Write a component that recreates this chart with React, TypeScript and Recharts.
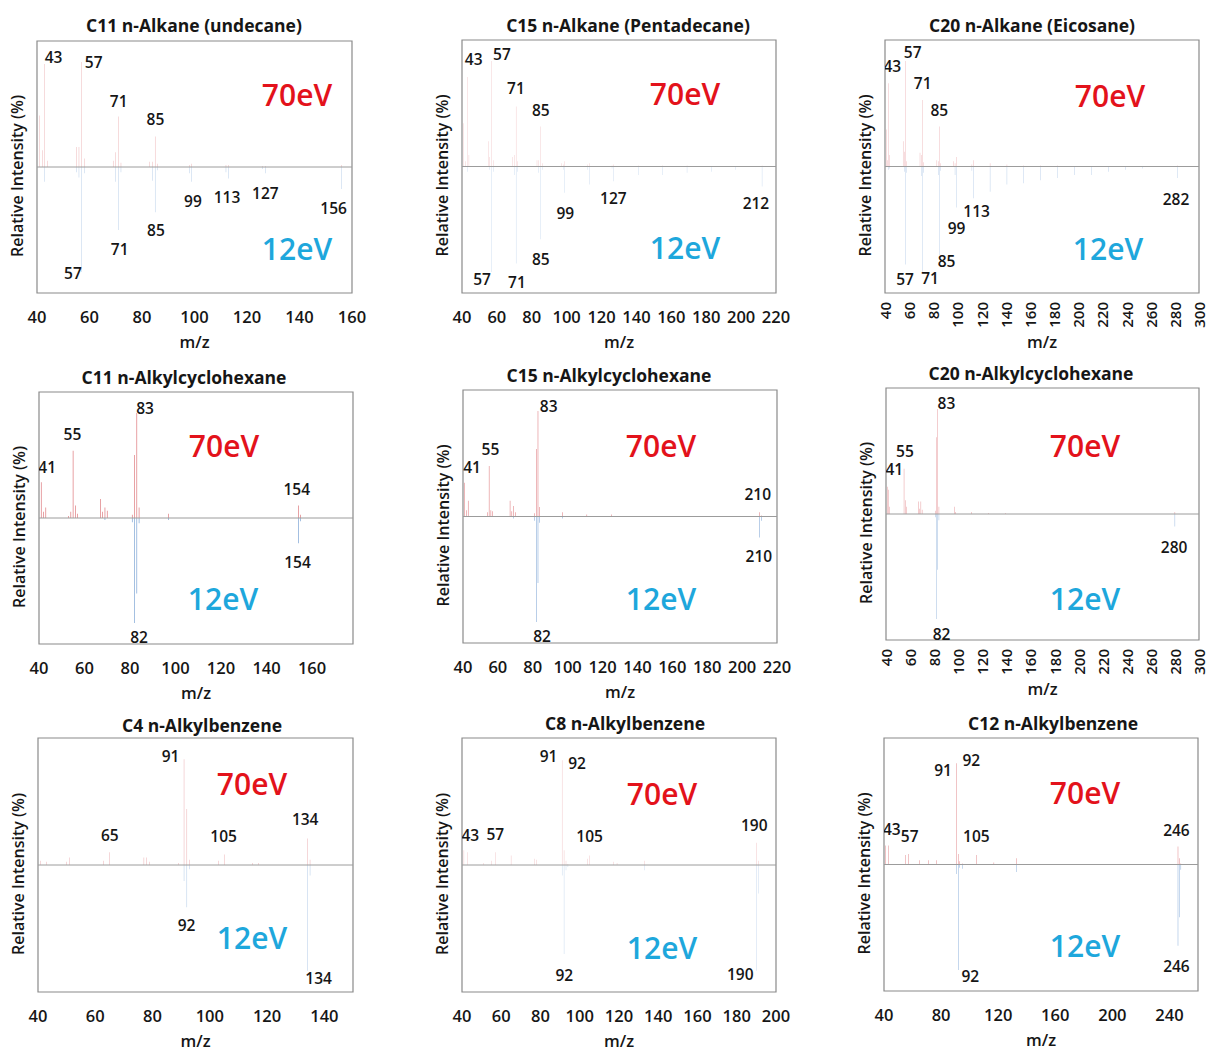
import React from "react";
import {
  ComposedChart,
  Bar,
  Scatter,
  XAxis,
  YAxis,
  ReferenceArea,
  ReferenceLine,
} from "recharts";

const FONT = '"Open Sans", "DejaVu Sans", sans-serif';
const RED = "#d9676c";
const BLUE = "#6a98cf";
const INK = "#161616";

// C11 n-Alkane (undecane)
const undecaneMz = [41, 42, 43, 44, 55, 56, 57, 58, 69, 70, 71, 72, 83, 84, 85, 86, 98, 99, 112, 113, 126, 127, 156];
const undecane70 = [49, 16, 98, 6, 19, 19, 100, 8, 6, 14, 48, 4, 5, 5, 29, 3, 2, 3, 2, 2, 1, 1, 2];
const undecane12 = [0, 0, 14, 0, 5, 10, 100, 6, 0, 14, 60, 5, 0, 13, 43, 3, 6, 14, 5, 11, 2, 6, 21];
const undecanePeaks = [
  { t: "43", mz: 46.3, val: 105 }, { t: "57", mz: 61.6, val: 100 }, { t: "71", mz: 71.1, val: 63 },
  { t: "85", mz: 85.1, val: 46 }, { t: "99", mz: 99.4, val: -32 }, { t: "113", mz: 112.4, val: -29 },
  { t: "127", mz: 127, val: -25 }, { t: "156", mz: 153, val: -39 }, { t: "85", mz: 85.3, val: -60 },
  { t: "71", mz: 71.5, val: -78 }, { t: "57", mz: 53.7, val: -101 },
];

// C15 n-Alkane (Pentadecane)
const pentadecaneMz = [41, 42, 43, 44, 55, 56, 57, 58, 69, 70, 71, 72, 83, 84, 85, 86, 97, 98, 99, 112, 113, 126, 127, 141, 155, 169, 183, 197, 212];
const pentadecane70 = [41, 5, 85, 11, 24, 9, 100, 6, 9, 11, 57, 5, 6, 6, 38, 3, 3, 2, 5, 2, 3, 1, 2, 1, 1, 1, 0.5, 0.5, 1];
const pentadecane12 = [0, 0, 5, 0, 0, 3, 100, 5, 0, 8, 92, 5, 0, 6, 69, 3, 0, 3, 25, 3, 17, 2, 14, 8, 8, 6, 5, 3, 19];
const pentadecanePeaks = [
  { t: "43", mz: 46.7, val: 102 }, { t: "57", mz: 62.9, val: 107 }, { t: "71", mz: 70.9, val: 74 },
  { t: "85", mz: 85.2, val: 54 }, { t: "99", mz: 99.2, val: -44 }, { t: "127", mz: 126.8, val: -30 },
  { t: "212", mz: 208.5, val: -35 }, { t: "85", mz: 85.2, val: -88 }, { t: "57", mz: 51.5, val: -107 },
  { t: "71", mz: 71.5, val: -110 },
];

// C20 n-Alkane (Eicosane)
const eicosaneMz = [41, 42, 43, 44, 55, 56, 57, 58, 69, 70, 71, 72, 83, 84, 85, 86, 97, 98, 99, 112, 113, 127, 141, 155, 169, 183, 197, 211, 225, 239, 253, 282];
const eicosane70 = [35, 6, 79, 11, 24, 14, 100, 5, 13, 11, 63, 4, 6, 5, 38, 3, 5, 3, 9, 2, 6, 3, 2, 1, 1, 1, 0.5, 0.5, 0.5, 0.5, 0.5, 1];
const eicosane12 = [0, 0, 3, 2, 0, 5, 93, 6, 0, 9, 100, 6, 0, 8, 84, 4, 0, 8, 39, 4, 30, 24, 17, 16, 13, 11, 8, 8, 5, 3, 2, 11];
const eicosanePeaks = [
  { t: "57", mz: 62.9, val: 109 }, { t: "43", mz: 46, val: 95 }, { t: "71", mz: 71.2, val: 79 },
  { t: "85", mz: 85, val: 54 }, { t: "113", mz: 115.9, val: -42 }, { t: "99", mz: 99.3, val: -58 },
  { t: "282", mz: 281, val: -31 }, { t: "85", mz: 91, val: -90 }, { t: "57", mz: 56.6, val: -107 },
  { t: "71", mz: 77.3, val: -106 },
];

// C11 n-Alkylcyclohexane
const c11HexMz = [41, 42, 43, 53, 54, 55, 56, 57, 67, 68, 69, 70, 81, 82, 83, 84, 97, 154, 155];
const c11Hex70 = [34, 6, 10, 2, 6, 64, 12, 4, 18, 6, 10, 7, 3, 60, 100, 10, 4, 12, 3];
const c11Hex12 = [0, 0, 0, 0, 0, 0, 0, 0, 0, 0, 2, 0, 4, 100, 72, 5, 2, 24, 3];
const c11HexPeaks = [
  { t: "83", mz: 86.6, val: 105 }, { t: "55", mz: 54.7, val: 80 }, { t: "41", mz: 43.6, val: 49 },
  { t: "154", mz: 153.3, val: 28 }, { t: "154", mz: 153.6, val: -42 }, { t: "82", mz: 84, val: -113 },
];

// C15 n-Alkylcyclohexane
const c15HexMz = [41, 42, 43, 54, 55, 56, 57, 67, 68, 69, 70, 81, 82, 83, 84, 97, 111, 125, 210, 211];
const c15Hex70 = [32, 6, 15, 4, 48, 6, 5, 15, 5, 10, 4, 3, 64, 100, 9, 4, 2, 2, 4, 1];
const c15Hex12 = [0, 0, 0, 0, 0, 0, 0, 0, 0, 2, 0, 4, 100, 63, 6, 2, 0, 0, 20, 4];
const c15HexPeaks = [
  { t: "83", mz: 89.1, val: 105 }, { t: "55", mz: 55.7, val: 64 }, { t: "41", mz: 45.2, val: 47 },
  { t: "210", mz: 209, val: 21 }, { t: "210", mz: 209.6, val: -37 }, { t: "82", mz: 85.3, val: -113 },
];

// C20 n-Alkylcyclohexane
const c20HexMz = [41, 42, 43, 55, 56, 57, 67, 68, 69, 70, 81, 82, 83, 84, 97, 98, 111, 125, 139, 280];
const c20Hex70 = [26, 23, 7, 43, 13, 7, 12, 5, 12, 4, 3, 73, 100, 7, 7, 2, 2, 1, 1, 2];
const c20Hex12 = [0, 0, 0, 0, 0, 0, 0, 0, 0, 0, 3, 100, 53, 6, 0, 0, 0, 0, 0, 12];
const c20HexPeaks = [
  { t: "83", mz: 90.2, val: 106 }, { t: "55", mz: 55.7, val: 60 }, { t: "41", mz: 46.9, val: 43 },
  { t: "280", mz: 279.3, val: -31 }, { t: "82", mz: 86.1, val: -114 },
];

// C4 n-Alkylbenzene
const c4BenzMz = [41, 43, 50, 51, 63, 65, 77, 78, 79, 89, 91, 92, 93, 103, 105, 115, 117, 134, 135];
const c4Benz70 = [4, 3, 3, 7, 4, 12, 7, 7, 3, 2, 100, 53, 5, 4, 10, 2, 2, 25, 5];
const c4Benz12 = [0, 0, 0, 0, 0, 0, 0, 0, 0, 0, 15, 40, 4, 0, 0, 0, 0, 100, 10];
const c4BenzPeaks = [
  { t: "91", mz: 86.3, val: 103 }, { t: "65", mz: 65.1, val: 28 }, { t: "105", mz: 104.8, val: 27 },
  { t: "134", mz: 133.3, val: 43 }, { t: "92", mz: 91.9, val: -57 }, { t: "134", mz: 138, val: -107 },
];

// C8 n-Alkylbenzene
const c8BenzMz = [41, 43, 51, 55, 57, 65, 77, 78, 91, 92, 93, 94, 104, 105, 117, 119, 133, 190, 191];
const c8Benz70 = [14, 12, 2, 4, 12, 9, 6, 5, 99, 14, 4, 1, 6, 9, 3, 2, 4, 21, 4];
const c8Benz12 = [0, 0, 0, 0, 0, 0, 0, 0, 10, 84, 5, 2, 0, 0, 0, 0, 5, 100, 27];
const c8BenzPeaks = [
  { t: "91", mz: 84.1, val: 103 }, { t: "92", mz: 98.6, val: 96 }, { t: "43", mz: 44.2, val: 28 },
  { t: "57", mz: 57, val: 29 }, { t: "105", mz: 105, val: 27 }, { t: "190", mz: 188.9, val: 38 },
  { t: "92", mz: 92.1, val: -104 }, { t: "190", mz: 181.8, val: -103 },
];

// C12 n-Alkylbenzene
const c12BenzMz = [41, 43, 55, 57, 65, 71, 77, 91, 92, 93, 95, 105, 117, 133, 246, 247, 248];
const c12Benz70 = [18, 18, 9, 10, 4, 4, 4, 96, 10, 3, 1, 9, 2, 6, 17, 6, 1];
const c12Benz12 = [0, 0, 0, 0, 0, 0, 0, 9, 100, 3, 4, 0, 0, 7, 77, 50, 5];
const c12BenzPeaks = [
  { t: "91", mz: 81.4, val: 90 }, { t: "92", mz: 101.2, val: 99 }, { t: "43", mz: 45.5, val: 34 },
  { t: "57", mz: 58, val: 27 }, { t: "105", mz: 104.7, val: 27 }, { t: "246", mz: 244.9, val: 33 },
  { t: "92", mz: 100.5, val: -106 }, { t: "246", mz: 244.9, val: -96 },
];

const ticks20 = (lo: number, hi: number) => {
  const out: number[] = [];
  for (let v = lo; v <= hi; v += 20) out.push(v);
  return out;
};

// 70 eV goes up, 12 eV is mirrored below the axis
const rows = (mz: number[], hi: number[], lo: number[]) =>
  mz.map((m, i) => ({ mz: m, e70: hi[i], e12: -lo[i] }));

const panels = [
  { title: "C11 n-Alkane (undecane)", titleAt: [194, 25], box: { left: 37, top: 41, width: 315, height: 252 }, domain: [40, 160], ticks: ticks20(40, 160), vertical: false, data: rows(undecaneMz, undecane70, undecane12), peaks: undecanePeaks, hiAt: [297, 94], loAt: [297, 248] },
  { title: "C15 n-Alkane (Pentadecane)", titleAt: [628, 25], box: { left: 462, top: 40, width: 314, height: 253 }, domain: [40, 220], ticks: ticks20(40, 220), vertical: false, data: rows(pentadecaneMz, pentadecane70, pentadecane12), peaks: pentadecanePeaks, hiAt: [685, 93], loAt: [685, 247] },
  { title: "C20 n-Alkane (Eicosane)", titleAt: [1032, 25], box: { left: 885, top: 40, width: 314, height: 253 }, domain: [40, 300], ticks: ticks20(40, 300), vertical: true, data: rows(eicosaneMz, eicosane70, eicosane12), peaks: eicosanePeaks, hiAt: [1110, 95], loAt: [1108, 248] },
  { title: "C11 n-Alkylcyclohexane", titleAt: [184, 377], box: { left: 39, top: 392, width: 314, height: 252 }, domain: [40, 178], ticks: ticks20(40, 160), vertical: false, data: rows(c11HexMz, c11Hex70, c11Hex12), peaks: c11HexPeaks, hiAt: [224, 445], loAt: [223, 598] },
  { title: "C15 n-Alkylcyclohexane", titleAt: [609, 375], box: { left: 463, top: 390, width: 314, height: 253 }, domain: [40, 220], ticks: ticks20(40, 220), vertical: false, data: rows(c15HexMz, c15Hex70, c15Hex12), peaks: c15HexPeaks, hiAt: [661, 445], loAt: [661, 598] },
  { title: "C20 n-Alkylcyclohexane", titleAt: [1031, 373], box: { left: 886, top: 388, width: 313, height: 252 }, domain: [40, 300], ticks: ticks20(40, 300), vertical: true, data: rows(c20HexMz, c20Hex70, c20Hex12), peaks: c20HexPeaks, hiAt: [1085, 445], loAt: [1085, 598] },
  { title: "C4 n-Alkylbenzene", titleAt: [202, 725], box: { left: 38, top: 738, width: 315, height: 254 }, domain: [40, 150], ticks: ticks20(40, 140), vertical: false, data: rows(c4BenzMz, c4Benz70, c4Benz12), peaks: c4BenzPeaks, hiAt: [252, 783], loAt: [252, 937] },
  { title: "C8 n-Alkylbenzene", titleAt: [625, 723], box: { left: 462, top: 738, width: 314, height: 254 }, domain: [40, 200], ticks: ticks20(40, 200), vertical: false, data: rows(c8BenzMz, c8Benz70, c8Benz12), peaks: c8BenzPeaks, hiAt: [662, 793], loAt: [662, 947] },
  { title: "C12 n-Alkylbenzene", titleAt: [1053, 723], box: { left: 884, top: 738, width: 314, height: 253 }, domain: [40, 260], ticks: [40, 80, 120, 160, 200, 240], vertical: false, data: rows(c12BenzMz, c12Benz70, c12Benz12), peaks: c12BenzPeaks, hiAt: [1085, 792], loAt: [1085, 945] },
];

const FlatTick = (props: any) => {
  const { x, y, payload } = props;
  return (
    <text x={x} y={y + 23} textAnchor="middle" dominantBaseline="central" fontFamily={FONT} fontSize={16.5} fontWeight={600} fill={INK}>
      {payload.value}
    </text>
  );
};

const UpTick = (props: any) => {
  const { x, y, payload } = props;
  const ty = y + 9;
  return (
    <text x={x} y={ty} transform={`rotate(-90 ${x} ${ty})`} textAnchor="end" dominantBaseline="central" fontFamily={FONT} fontSize={15} fontWeight={600} fill={INK}>
      {payload.value}
    </text>
  );
};

const PeakLabel = (props: any) => {
  const { cx, cy, payload } = props;
  return (
    <text x={cx} y={cy} textAnchor="middle" dominantBaseline="central" fontFamily={FONT} fontSize={15.5} fontWeight={600} fill={INK}>
      {payload.t}
    </text>
  );
};

const MzLabel = (props: any) => {
  const { x, y, width } = props.viewBox;
  return (
    <text x={x + width / 2} y={y + 48} textAnchor="middle" dominantBaseline="central" fontFamily={FONT} fontSize={16.5} fontWeight={600} fill={INK}>
      m/z
    </text>
  );
};

const IntensityLabel = (props: any) => {
  const { x, y, height } = props.viewBox;
  const lx = x + 10;
  const ly = y + height / 2 + 9;
  return (
    <text x={lx} y={ly} transform={`rotate(-90 ${lx} ${ly})`} textAnchor="middle" dominantBaseline="central" fontFamily={FONT} fontSize={16} fontWeight={600} fill={INK}>
      Relative Intensity (%)
    </text>
  );
};

const Y_W = 30;
const X_H = 60;
const TOP = 2;
const RIGHT = 18;

function SpectrumPanel({ title, titleAt, box, domain, ticks, vertical, data, peaks, hiAt, loAt }: any) {
  return (
    <>
      <div
        style={{
          position: "absolute",
          left: titleAt[0],
          top: titleAt[1],
          transform: "translate(-50%, -50%)",
          whiteSpace: "nowrap",
          fontSize: 17.5,
          fontWeight: 700,
          color: INK,
        }}
      >
        {title}
      </div>
      <div style={{ position: "absolute", left: box.left - Y_W, top: box.top - TOP }}>
        <ComposedChart
          width={box.width + Y_W + RIGHT}
          height={box.height + TOP + X_H}
          data={data}
          stackOffset="sign"
          margin={{ top: TOP, right: RIGHT, bottom: 0, left: 0 }}
        >
          <XAxis
            dataKey="mz"
            type="number"
            domain={domain}
            ticks={ticks}
            interval={0}
            allowDataOverflow
            axisLine={false}
            tickLine={false}
            tickSize={0}
            tickMargin={0}
            height={X_H}
            tick={vertical ? <UpTick /> : <FlatTick />}
            label={<MzLabel />}
          />
          <YAxis
            type="number"
            domain={[-120, 120]}
            allowDataOverflow
            tick={false}
            tickLine={false}
            axisLine={false}
            width={Y_W}
            label={<IntensityLabel />}
          />
          <ReferenceArea x1={domain[0]} x2={domain[1]} y1={-120} y2={120} fill="none" stroke="#8a8a8a" strokeWidth={1.2} />
          <Bar dataKey="e70" stackId="ms" fill={RED} barSize={1.6} isAnimationActive={false} />
          <Bar dataKey="e12" stackId="ms" fill={BLUE} barSize={1.6} isAnimationActive={false} />
          <ReferenceLine y={0} stroke="#9c9c9c" strokeWidth={1} />
          <Scatter data={peaks} dataKey="val" shape={PeakLabel} isAnimationActive={false} />
        </ComposedChart>
      </div>
      <div style={{ position: "absolute", left: hiAt[0], top: hiAt[1], transform: "translate(-50%, -50%)", fontSize: 30, fontWeight: 600, color: "#e3121b" }}>
        70eV
      </div>
      <div style={{ position: "absolute", left: loAt[0], top: loAt[1], transform: "translate(-50%, -50%)", fontSize: 30, fontWeight: 600, color: "#1ea7dc" }}>
        12eV
      </div>
    </>
  );
}

export default function App() {
  return (
    <div
      style={{
        position: "absolute",
        left: 0,
        top: 0,
        width: 1208,
        height: 1051,
        background: "#fff",
        fontFamily: FONT,
      }}
    >
      {panels.map((p) => (
        <SpectrumPanel key={p.title} {...p} />
      ))}
    </div>
  );
}
